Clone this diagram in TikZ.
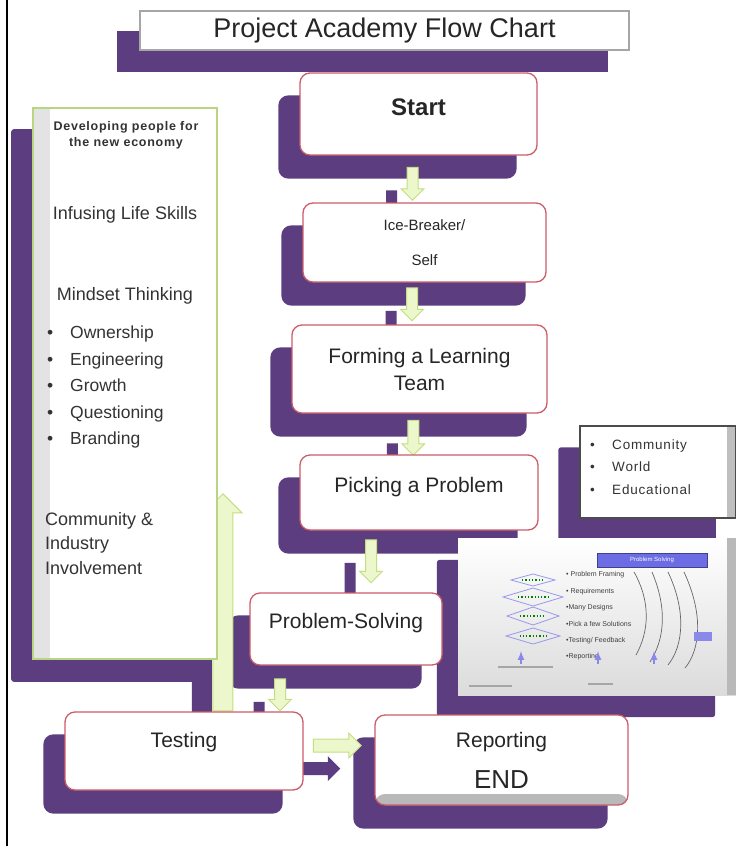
\documentclass[tikz,border=0pt]{standalone}
\usepackage{fontspec}
\setmainfont{Liberation Sans}
\newfontfamily\spacedfont[LetterSpace=6]{Liberation Sans}
\usetikzlibrary{shapes.arrows,shadows,calc}
\definecolor{boxshadow}{RGB}{92,62,128}
\definecolor{boxline}{RGB}{205,92,104}
\definecolor{arrowfill}{RGB}{236,247,204}
\definecolor{arrowline}{RGB}{196,222,130}
\definecolor{panelline}{RGB}{184,214,130}
\definecolor{slideblue}{RGB}{108,108,228}
\pgfdeclarelayer{background}
\pgfdeclarelayer{mid}
\pgfsetlayers{background,mid,main}
\begin{document}
\begin{tikzpicture}[x=1pt, y=-1pt]
    % Define styles
    \tikzset{
        stepbox/.style={draw=boxline, fill=white, line width=1.3pt, rounded corners=10pt, align=center, text=black!85, font=\fontsize{21}{25}\selectfont},
        titlebox/.style={draw=gray!70, fill=white, line width=1.5pt, text=black!85, font=\fontsize{27}{31}\selectfont},
        panelbox/.style={draw=panelline, fill=white, line width=1.8pt, path picture={\fill[gray!22] (path picture bounding box.south west) rectangle ([xshift=17pt]path picture bounding box.north west);}},
        topicbox/.style={draw=black!70, fill=white, line width=1.5pt, path picture={\fill[gray!50] (path picture bounding box.south east) rectangle ([xshift=-9pt]path picture bounding box.north east);}},
        shotbox/.style={top color=white, bottom color=gray!28, path picture={\fill[gray!55] (path picture bounding box.south east) rectangle ([xshift=-9pt]path picture bounding box.north east);}},
        paneltext/.style={text=black!80, inner sep=0pt, font=\fontsize{18}{21.6}\selectfont},
        blockarrow/.style={single arrow, draw=arrowline, fill=arrowfill, line width=1pt, inner xsep=0pt, inner ysep=5pt, single arrow head extend=6pt, drop shadow={shadow xshift=-21pt, shadow yshift=-23pt, fill=boxshadow, opacity=1}},
        downarrow/.style={blockarrow, shape border rotate=270, inner xsep=5pt, inner ysep=0pt},
        slidetext/.style={inner sep=0pt, align=left, text=black!75, font=\fontsize{7}{16.4}\selectfont}
    }
    \useasboundingbox (0,0) rectangle (736,846);
    \draw[line width=1.6pt] (7,0) -- (7,846);

    % Title
    \node[titlebox, minimum width=489pt, minimum height=39pt] (title) at (384.5,30.5) {Project Academy Flow Chart};

    % Steps
    \node[stepbox, minimum width=237pt, minimum height=82pt, font=\fontsize{24}{28}\selectfont\bfseries, text height=18pt, text depth=16pt] (start) at (418.5,114) {Start};
    \node[stepbox, minimum width=243pt, minimum height=79pt, font=\fontsize{15}{18}\selectfont] (ice) at (424.5,242.5) {Ice-Breaker/\\[17pt]Self};
    \node[stepbox, minimum width=255pt, minimum height=88pt] (forming) at (419.5,369) {Forming a Learning\\[2pt]Team};
    \node[stepbox, minimum width=238pt, minimum height=75pt, text height=15pt, text depth=15pt] (picking) at (419,492.5) {Picking a Problem};
    \node[stepbox, minimum width=192pt, minimum height=72pt, text height=15pt, text depth=16pt] (solving) at (346,629) {Problem-Solving};
    \node[stepbox, minimum width=238pt, minimum height=78pt, text height=15pt, text depth=22pt] (testing) at (184,751) {Testing};
    \node[stepbox, minimum width=253pt, minimum height=90pt, path picture={\fill[gray!55] (path picture bounding box.south west) rectangle ([yshift=11pt]path picture bounding box.south east);}] (report) at (501.5,760) {Reporting\\[16pt]{\fontsize{26}{30}\selectfont END}};

    % Left panel
    \node[panelbox, minimum width=184pt, minimum height=551pt] (panel) at (125,383.5) {};
    \node[paneltext, align=center, font=\fontsize{12.5}{16}\spacedfont\bfseries] (aim) at (126,135) {Developing people for\\the new economy};
    \node[paneltext] (skills) at (125,215) {Infusing Life Skills};
    \node[paneltext] (mindset) at (125,296) {Mindset Thinking};
    \node[paneltext, anchor=west, align=left, font=\fontsize{17.5}{21}\selectfont] (traits) at (47,387) {\makebox[23pt][l]{\textbullet}Ownership\\[5.5pt]\makebox[23pt][l]{\textbullet}Engineering\\[5.5pt]\makebox[23pt][l]{\textbullet}Growth\\[5.5pt]\makebox[23pt][l]{\textbullet}Questioning\\[5.5pt]\makebox[23pt][l]{\textbullet}Branding};
    \node[paneltext, anchor=west, align=left] (industry) at (45,543.5) {Community \&\\[3pt]Industry\\[3pt]Involvement};

    % Problem sources
    \node[topicbox, minimum width=156pt, minimum height=92pt] (topics) at (658,472) {};
    \node[paneltext, anchor=west, align=left, font=\fontsize{13.5}{16.2}\spacedfont] (sources) at (590,467) {\makebox[22pt][l]{\textbullet}Community\\[6pt]\makebox[22pt][l]{\textbullet}World\\[6pt]\makebox[22pt][l]{\textbullet}Educational};

    % Problem solving slide
    \node[shotbox, minimum width=278pt, minimum height=157pt] (shot) at (597,616.5) {};
    \node[fill=slideblue, draw=slideblue!60!black, minimum width=110pt, minimum height=14pt, inner sep=0pt, text=white, font=\fontsize{6}{7}\selectfont] (bar) at (652,560) {Problem Solving};
    \node[slidetext, anchor=west] (stages) at (566,616) {\textbullet\ Problem Framing\\\textbullet\ Requirements\\\textbullet Many Designs\\\textbullet Pick a few Solutions\\\textbullet Testing/ Feedback\\\textbullet Reporting};
    \foreach \cy/\hw/\hh in {580/22/6, 597/30/9, 616/26/9, 636/27/8} {
        \draw[slideblue!70, line width=0.8pt] (533-\hw,\cy) -- (533,\cy-\hh) -- (533+\hw,\cy) -- (533,\cy+\hh) -- cycle;
        \draw[green!50!black, dotted, line width=1.3pt] (533-\hw*0.5,\cy) -- (533+\hw*0.5,\cy);
    }
    \draw[black!60, line width=0.7pt] (634,572) .. controls (650,600) and (650,630) .. (636,655);
    \draw[black!60, line width=0.7pt] (652,572) .. controls (668,610) and (664,640) .. (650,662);
    \draw[black!60, line width=0.7pt] (668,572) .. controls (686,610) and (684,645) .. (668,665);
    \draw[black!60, line width=0.7pt] (684,572) .. controls (704,615) and (700,650) .. (685,668);
    \foreach \ax in {521,598,654}
        \draw[slideblue!80, line width=2pt, -latex] (\ax,664) -- (\ax,651);
    \fill[slideblue!80] (694,632) rectangle (712,641);
    \draw[gray!70, line width=1.4pt] (498,667) -- (553,667);
    \draw[gray!70, line width=1.4pt] (469,686) -- (512,686);
    \draw[gray!70, line width=1.4pt] (588,684) -- (613,684);

    % Arrows
    \begin{pgfonlayer}{mid}
        \node[downarrow, minimum height=33pt] (a1) at ($(start.south)!0.5!(ice.north)+(-9,2)$) {};
        \node[downarrow, minimum height=33pt] (a2) at ($(ice.south)!0.5!(forming.north)+(-10,-2)$) {};
        \node[downarrow, minimum height=35pt] (a3) at ($(forming.south)!0.5!(picking.north)+(-6,1)$) {};
        \node[downarrow, minimum height=43pt] (a4) at ($(picking.south)!0.5!(solving.north)+(-11.5,-3)$) {};
        \node[downarrow, minimum height=32pt] (a5) at ($(solving.south)!0.5!(testing.north)+(15,3.5)$) {};
        \node[blockarrow, minimum height=48pt, inner ysep=6pt] (a6) at ($(testing.east)!0.5!(report.west)+(-5,-10)$) {};
        \node[blockarrow, shape border rotate=90, minimum height=217pt, inner xsep=9.5pt, inner ysep=0pt, single arrow head extend=9pt, anchor=tail] (back) at ([xshift=5pt]testing.north -| panel.east) {};
    \end{pgfonlayer}

    % Shadows
    \begin{pgfonlayer}{background}
        \fill[white] (0,0) rectangle (736,846);
        \fill[boxshadow] ([shift={(-22,21)}]title.north west) rectangle ([shift={(-22,21)}]title.south east);
        \foreach \n in {start,ice,forming,picking,solving,testing,report}
            \fill[boxshadow, rounded corners=10pt] ([shift={(-21,23)}]\n.north west) rectangle ([shift={(-21,23)}]\n.south east);
        \foreach \n in {panel,topics,shot}
            \fill[boxshadow, rounded corners=3pt] ([shift={(-21,22)}]\n.north west) rectangle ([shift={(-21,22)}]\n.south east);
    \end{pgfonlayer}
\end{tikzpicture}
\end{document}
